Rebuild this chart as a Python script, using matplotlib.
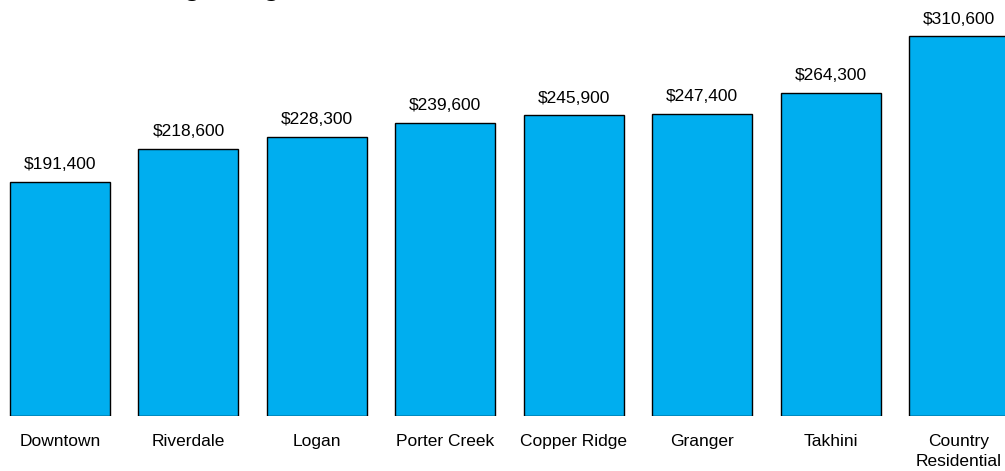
import matplotlib
matplotlib.use("Agg")
import matplotlib.pyplot as plt

categories = ["Downtown", "Riverdale", "Logan", "Porter Creek", "Copper Ridge",
              "Granger", "Takhini", "Country\nResidential"]
prices = [191400, 218600, 228300, 239600, 245900, 247400, 264300, 310600]
title = "Average Single-detached House Sale Prices, Whitehorse, 2012"

plt.rcParams['font.family'] = ['Liberation Sans', 'DejaVu Sans']

W, H = 1005, 471
fig = plt.figure(figsize=(W / 100, H / 100), dpi=100)
ax = fig.add_axes([0, (H - 416) / H, 1, 416 / H])

x = list(range(len(categories)))
bars = ax.bar(x, prices, width=0.778, color='#00AEEF', edgecolor='black', linewidth=1.0)
for xi, v in zip(x, prices):
    ax.annotate(f"${v:,.0f}", (xi, v), xytext=(0, 7), textcoords='offset points',
                ha='center', va='bottom', fontsize=12.5)

ax.set_xlim(-60 / 128.43, (W - 60) / 128.43)
ax.set_ylim(0, 416 / 1.2226e-3)
ax.set_xticks(x)
ax.set_xticklabels(categories, fontsize=12.5, linespacing=1.45)
ax.tick_params(axis='x', length=0, pad=13)
ax.set_yticks([])
for s in ax.spines.values():
    s.set_visible(False)

fig.text(0.5, 1 + 3.5 / H, title, ha='center', va='baseline', fontsize=19, fontweight='bold')

fig.savefig("out.png", dpi=100)
